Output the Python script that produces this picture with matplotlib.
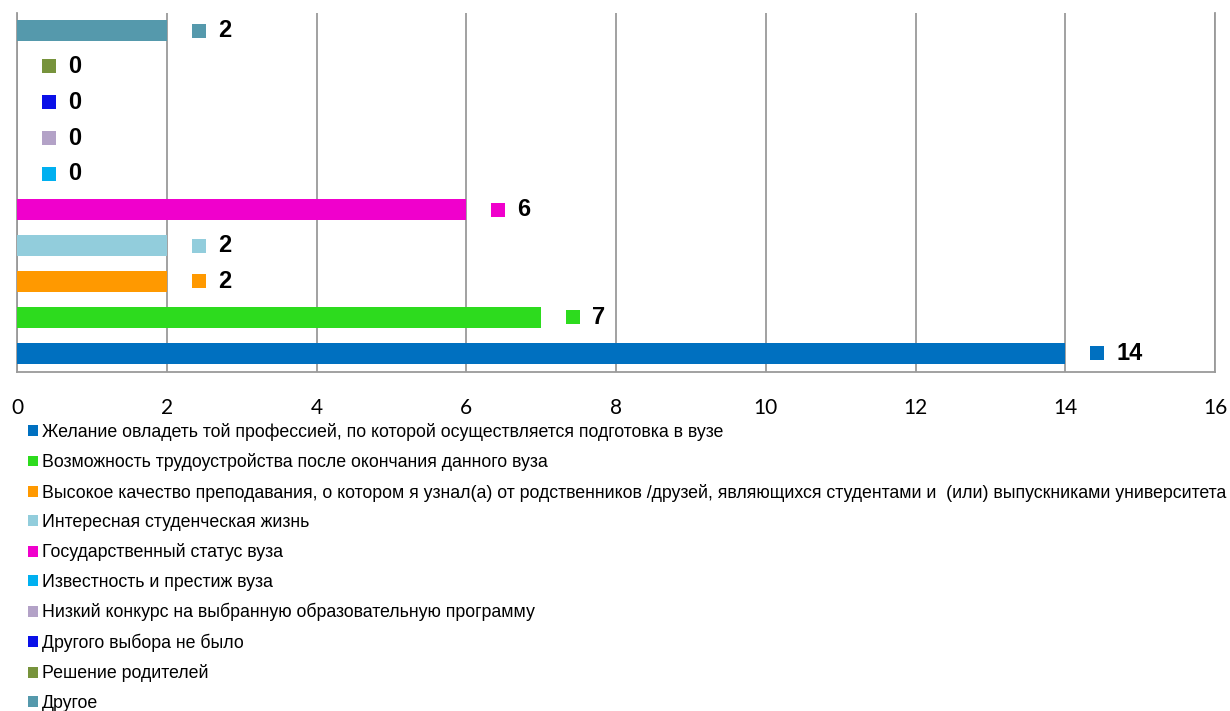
import matplotlib
matplotlib.use("Agg")
import matplotlib.pyplot as plt
from matplotlib.transforms import ScaledTranslation
from matplotlib.patches import Patch
import warnings
warnings.filterwarnings("ignore")

categories = [
    "Желание овладеть той профессией, по которой осуществляется подготовка в вузе",
    "Возможность трудоустройства после окончания данного вуза",
    "Высокое качество преподавания, о котором я узнал(а) от родственников /друзей, являющихся студентами и  (или) выпускниками университета",
    "Интересная студенческая жизнь",
    "Государственный статус вуза",
    "Известность и престиж вуза",
    "Низкий конкурс на выбранную образовательную программу",
    "Другого выбора не было",
    "Решение родителей",
    "Другое",
]
values = [14, 7, 2, 2, 6, 0, 0, 0, 0, 2]
colors = ["#0070C0", "#2DDB1E", "#FF9900", "#92CDDC", "#F000CC",
          "#00B0F0", "#B3A2C7", "#0A10E8", "#77933C", "#5599AC"]
xticks = [0, 2, 4, 6, 8, 10, 12, 14, 16]

narrow = ["Liberation Sans Narrow", "Liberation Sans", "DejaVu Sans"]
tickfont = ["Lato", "DejaVu Sans"]

fig = plt.figure(figsize=(12.3, 7.11), dpi=100)
ax = fig.add_axes([17/1230, 1-372/711, (1215-17)/1230, (372-13)/711])

ypos = list(range(len(values)))
ax.barh(ypos, values, height=0.586, color=colors, zorder=3)

ax.set_xlim(0, 16)
ax.set_ylim(-0.53, 9.49)
ax.set_xticks(xticks)
ax.set_xticklabels([str(t) for t in xticks], family=tickfont, fontsize=15)
ax.tick_params(axis="x", length=0, pad=19)
ax.set_yticks([])
ax.grid(axis="x", color="#9A9A9A", linewidth=1.3, zorder=0)
for s in ["left", "bottom", "right"]:
    ax.spines[s].set_color("#9A9A9A")
    ax.spines[s].set_linewidth(1.3)
ax.spines["top"].set_visible(False)

sq_off = ax.transData + ScaledTranslation(32/100, 0, fig.dpi_scale_trans)
for y, v, c in zip(ypos, values, colors):
    ax.scatter([v], [y], marker="s", s=14*14*0.52, color=c, transform=sq_off,
               zorder=4, clip_on=False, linewidths=0)
    ax.annotate(str(v), xy=(v, y), xytext=(51*0.72, 0), textcoords="offset points",
                ha="left", va="center", fontsize=17, fontweight="bold",
                family=narrow, color="black", annotation_clip=False)

handles = [Patch(facecolor=c, edgecolor="none") for c in colors]
leg = fig.legend(handles, categories, loc="upper left",
                 bbox_to_anchor=(28/1230, 1-423/711), frameon=False,
                 prop={"family": narrow, "size": 12.8},
                 handlelength=0.56, handleheight=0.56, handletextpad=0.22,
                 labelspacing=0.695, borderaxespad=0, borderpad=0)

fig.savefig("out.png", dpi=100)
